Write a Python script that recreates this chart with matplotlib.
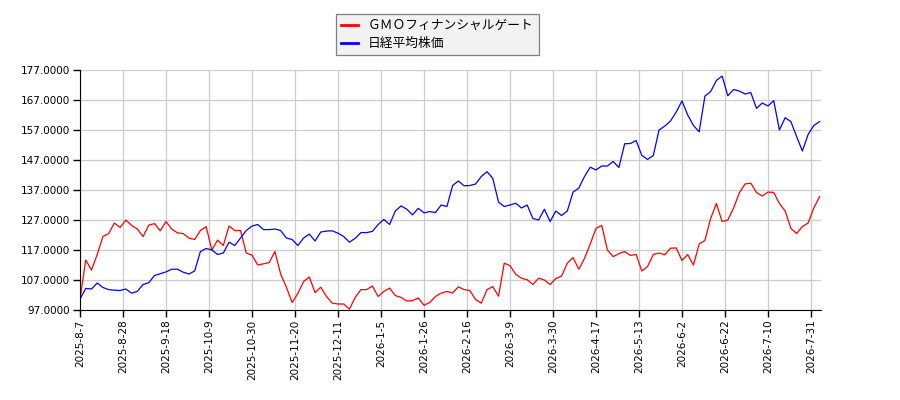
"""GMO Financial Gate vs Nikkei 225 (normalised) line chart."""
import numpy as np
import matplotlib
matplotlib.use("Agg")
import matplotlib.pyplot as plt

plt.rcParams["font.family"] = ["DejaVu Sans", "Noto Sans CJK JP"]

# values read every 2nd trading day (index 0, 2, 4, ...)
gmo = [
    100.5, 113.7, 110.3, 115.5, 121.5, 122.5, 126.0, 124.5, 127.0, 125.2,
    124.0, 121.5, 125.3, 125.8, 123.4, 126.5, 124.0, 122.7, 122.5, 121.0,
    120.5, 123.5, 124.8, 117.0, 120.3, 118.5, 125.0, 123.5, 123.5, 116.0,
    115.3, 112.0, 112.4, 112.8, 116.5, 109.0, 104.6, 99.5, 102.5, 106.5,
    108.0, 102.8, 104.6, 101.5, 99.3, 99.0, 99.0, 97.3, 101.2, 103.8,
    103.8, 105.0, 101.5, 103.2, 104.3, 101.8, 101.2, 100.0, 100.1, 101.0,
    98.6, 99.5, 101.5, 102.6, 103.2, 102.7, 104.7, 103.8, 103.5, 100.5,
    99.3, 103.8, 104.8, 101.6, 112.6, 111.8, 108.9, 107.6, 107.1, 105.5,
    107.6, 107.0, 105.5, 107.5, 108.3, 112.6, 114.5, 110.6, 114.2, 119.0,
    124.2, 125.2, 117.0, 114.8, 115.8, 116.5, 115.2, 115.5, 110.0, 111.5,
    115.5, 116.0, 115.4, 117.6, 117.7, 113.5, 115.5, 112.0, 119.0, 120.2,
    127.5, 132.5, 126.5, 127.0, 131.0, 136.0, 139.0, 139.3, 136.2, 135.0,
    136.3, 136.2, 132.5, 130.0, 124.2, 122.5, 124.8, 126.0, 131.0, 134.8,
]
nikkei = [
    100.6, 104.2, 104.0, 106.0, 104.5, 103.8, 103.6, 103.5, 104.0, 102.6,
    103.2, 105.5, 106.1, 108.5, 109.1, 109.7, 110.6, 110.6, 109.6, 109.0,
    110.0, 116.5, 117.5, 117.0, 115.5, 116.0, 119.6, 118.5, 121.0, 123.5,
    125.0, 125.5, 123.8, 123.8, 124.0, 123.5, 121.0, 120.5, 118.5, 121.0,
    122.3, 120.0, 123.0, 123.3, 123.4, 122.6, 121.5, 119.6, 120.9, 122.8,
    122.8, 123.2, 125.5, 127.2, 125.5, 130.0, 131.7, 130.6, 128.7, 130.9,
    129.4, 129.8, 129.5, 132.0, 131.5, 138.5, 140.0, 138.4, 138.5, 139.0,
    141.5, 143.1, 140.9, 133.0, 131.5, 132.0, 132.6, 131.0, 132.0, 127.5,
    127.0, 130.6, 126.5, 130.0, 128.5, 130.0, 136.3, 137.6, 141.5, 144.6,
    143.7, 145.0, 145.0, 146.5, 144.5, 152.4, 152.5, 153.5, 148.5, 147.2,
    148.5, 157.0, 158.3, 160.0, 163.0, 166.7, 162.0, 158.5, 156.4, 168.3,
    169.8, 173.5, 175.0, 168.4, 170.5, 170.0, 169.0, 169.5, 164.2, 166.0,
    165.0, 166.8, 157.0, 161.1, 159.8, 154.8, 150.0, 155.5, 158.5, 159.8,
]
tick_labels = [
    "2025-8-7", "2025-8-28", "2025-9-18", "2025-10-9", "2025-10-30",
    "2025-11-20", "2025-12-11", "2026-1-5", "2026-1-26", "2026-2-16",
    "2026-3-9", "2026-3-30", "2026-4-17", "2026-5-13", "2026-6-2",
    "2026-6-22", "2026-7-10", "2026-7-31",
]
tick_step = 15  # trading days between labelled ticks
y_ticks = np.arange(97, 178, 10)

x = np.arange(len(gmo)) * 2

fig = plt.figure(figsize=(9, 4), dpi=100)
ax = fig.add_axes([80 / 900, 90 / 400, 741 / 900, 240 / 400])

ax.plot(x, gmo, color="#ff0000", lw=0.9, label="ＧＭＯフィナンシャルゲート")
ax.plot(x, nikkei, color="#0000ff", lw=0.9, label="日経平均株価")

ax.set_xlim(0, 258.5)
ax.set_ylim(97, 177)
ax.set_xticks(np.arange(len(tick_labels)) * tick_step)
ax.set_xticklabels(tick_labels, rotation=90, fontsize=7.5)
ax.set_yticks(y_ticks)
ax.set_yticklabels([f"{v:.4f}" for v in y_ticks], fontsize=7.5)
ax.grid(True, color="#cccccc", lw=0.9)
ax.set_axisbelow(True)
for side in ("top", "right"):
    ax.spines[side].set_visible(False)
ax.tick_params(length=5, width=1, color="black", pad=2)

leg = fig.legend(loc="upper left", bbox_to_anchor=(336 / 900, 1 - 14 / 400),
                 borderaxespad=0,
                 prop={"family": ["Noto Sans CJK JP", "DejaVu Sans"], "size": 9.2},
                 fancybox=False, framealpha=1, facecolor="#f2f2f2",
                 edgecolor="#808080", handlelength=1.3, borderpad=0.4,
                 labelspacing=0.4)
leg.get_frame().set_linewidth(0.9)
for line in leg.get_lines():
    line.set_linewidth(2)

fig.savefig("out.png", dpi=100)
